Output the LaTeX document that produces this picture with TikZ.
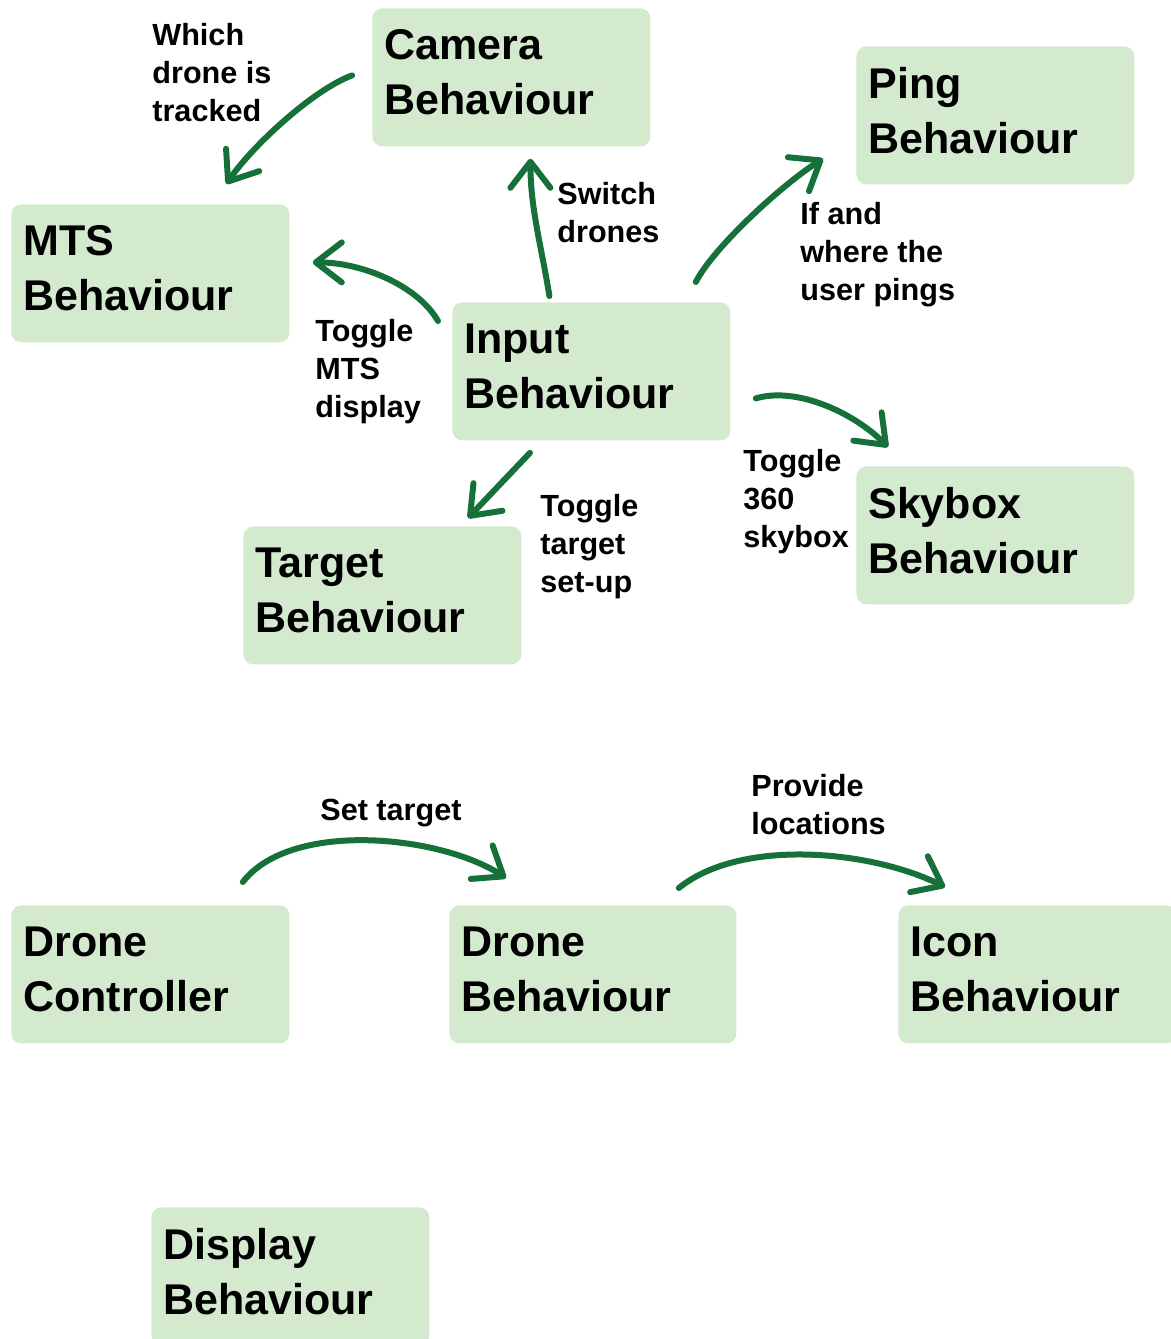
\documentclass[tikz,border=0pt]{standalone}
\usepackage{fontspec}
\setmainfont{Liberation Sans}
\usetikzlibrary{arrows.meta,calc}
\definecolor{BoxFill}{RGB}{212,234,207}
\definecolor{ArrLine}{RGB}{22,112,58}
\tikzset{
  nd_box/.style={rectangle,rounded corners=5pt,fill=BoxFill,anchor=north west,text width=127pt,text depth=32.5pt,inner xsep=6pt,inner ysep=0pt,minimum height=69pt,align=left,font=\fontsize{21.5}{27.5}\selectfont\bfseries},
  nd_lbl/.style={anchor=north west,inner sep=0pt,align=left,font=\fontsize{15.3}{19}\selectfont\bfseries},
  arr/.style={draw=ArrLine,line width=3pt,line cap=round,line join=round,-{Straight Barb[round,length=13pt,width=20pt]}},
}

\begin{document}
\begin{tikzpicture}[x=0.5pt,y=-0.5pt]
\useasboundingbox (0,0) rectangle (1171,1339);
\clip (0,0) rectangle (1171,1339);
% top group
\node[nd_box] at (372,8)(CB){Camera\\Behaviour};
\node[nd_box] at (856,46)(PB){Ping\\Behaviour};
\node[nd_box] at (11,204)(MB){MTS\\Behaviour};
\node[nd_box] at (452,302)(IB){Input\\Behaviour};
\node[nd_box] at (856,466)(SB){Skybox\\Behaviour};
\node[nd_box] at (243,526)(TB){Target\\Behaviour};
% bottom group
\node[nd_box] at (11,905)(DC){Drone\\Controller};
\node[nd_box,text width=131.5pt] at (449,905)(DB){Drone\\Behaviour};
\node[nd_box] at (898,905)(IcB){Icon\\Behaviour};
\node[nd_box] at (151,1207)(DpB){Display\\Behaviour};
% labels
\node[nd_lbl] at (152,23)(L1){Which\\drone is\\tracked};
\node[nd_lbl] at (557,182)(L2){Switch\\drones};
\node[nd_lbl] at (315,319)(L3){Toggle\\MTS\\display};
\node[nd_lbl] at (800,202)(L4){If and\\where the\\user pings};
\node[nd_lbl] at (743,449)(L5){Toggle\\360\\skybox};
\node[nd_lbl] at (540,494)(L6){Toggle\\target\\set-up};
\node[nd_lbl] at (320,799)(L7){Set target};
\node[nd_lbl] at (751,774)(L8){Provide\\locations};
% arrows
\draw[arr]($(CB.west)+(-20,-2)$) .. controls +(-40,15) and +(25,-37) .. ($(MB.north)+(76,-20)$);
\draw[arr]($(IB.north west)+(-14,19)$) .. controls +(-20,-35) and +(50,0) .. ($(MB.east)+(23,-11)$);
\draw[arr]($(IB.north)+(-42,-6)$) .. controls +(-8,-50) and +(0,50) .. ($(CB.south)+(19,12)$);
\draw[arr]($(IB.north east)+(-35,-20)$) .. controls +(18,-35) and +(-40,25) .. ($(PB.south west)+(-33,-26)$);
\draw[arr]($(IB.east)+(25,27)$) .. controls +(40,-12) and +(-35,-35) .. ($(SB.north west)+(32,-19)$);
\draw[arr]($(IB.south west)+(78,12)$)--($(TB.north west)+(225,-8)$);
\draw[arr]($(DC.north east)+(-47,-23)$) .. controls +(48,-62) and +(-66,-43) .. ($(DB.north west)+(57,-27)$);
\draw[arr]($(DB.north east)+(-58,-17)$) .. controls +(62,-50) and +(-75,-37) .. ($(IcB.north west)+(47,-18)$);
\end{tikzpicture}
\end{document}
